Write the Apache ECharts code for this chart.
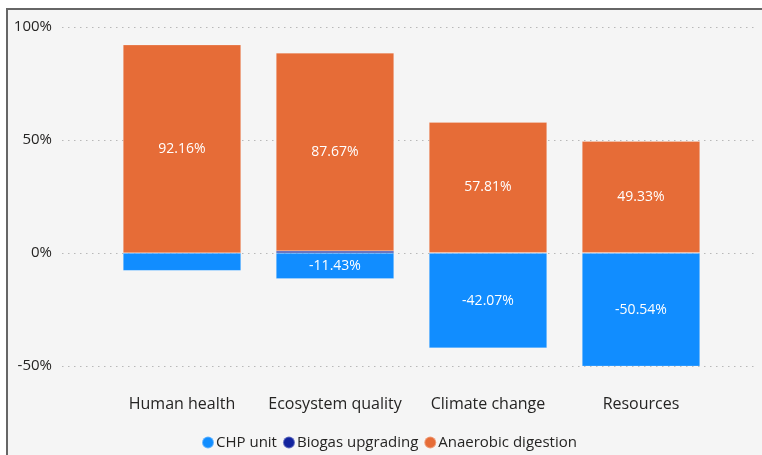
<!DOCTYPE html>
<html><head><meta charset="utf-8">
<script src="https://cdn.jsdelivr.net/npm/echarts@6/dist/echarts.min.js"></script>
<style>html,body{margin:0;padding:0;background:#fff}#c{width:762px;height:455px}</style>
</head><body><div id="c"></div>
<script>
const categories = ['Human health', 'Ecosystem quality', 'Climate change', 'Resources'];
const chpUnit = [-7.84, -11.43, -42.07, -50.54];
const biogasUpgrading = [0, 0.9, 0.12, 0.13];
const anaerobicDigestion = [92.16, 87.67, 57.81, 49.33];
const yTicks = [-50, 0, 50, 100];

const FONT = '"Open Sans", "Noto Sans", sans-serif';
const chart = echarts.init(document.getElementById('c'), null, {renderer: 'canvas'});
const labelFmt = p => Math.abs(p.value) >= 10 ? p.value.toFixed(2) + '%' : '';
const mkSeries = (name, data, color) => ({
  name, type: 'bar', stack: 's', data, xAxisIndex: 1, yAxisIndex: 1,
  barWidth: 118,
  itemStyle: {color, borderColor: 'rgba(255,255,255,0.35)', borderWidth: 0.6},
  label: {show: true, position: 'inside', color: '#fff', fontSize: 14, fontFamily: FONT, formatter: labelFmt},
  emphasis: {disabled: true}
});
chart.setOption({
  animation: false,
  backgroundColor: '#ffffff',
  graphic: [{type: 'rect', z: -10, shape: {x: 7, y: 9, width: 800, height: 500},
    style: {fill: '#f5f5f5', stroke: '#666', lineWidth: 2}}],
  grid: [
    {left: 62, right: 4, top: 27, bottom: 89},
    {left: 105.5, right: 44.5, top: 27, bottom: 89}
  ],
  legend: {
    left: 196, top: 430, icon: 'circle', itemWidth: 12, itemHeight: 12, itemGap: 5,
    textStyle: {fontSize: 15, color: '#252423', fontFamily: FONT, padding: [0,0,0,-3]},
    data: ['CHP unit', 'Biogas upgrading', 'Anaerobic digestion']
  },
  xAxis: [
    {type: 'value', gridIndex: 0, show: false, min: 0, max: 1},
    {type: 'category', gridIndex: 1, data: categories,
     axisLine: {show: false}, axisTick: {show: false},
     axisLabel: {fontSize: 16, color: '#252423', fontFamily: FONT, margin: 30, interval: 0}}
  ],
  yAxis: [
    {type: 'value', gridIndex: 0, min: yTicks[0], max: yTicks[yTicks.length-1], interval: 50,
     axisLine: {show: false}, axisTick: {show: false},
     axisLabel: {fontSize: 15, color: '#252423', fontFamily: FONT, margin: 10, formatter: v => v + '%'},
     splitLine: {show: true, lineStyle: {color: '#b8b8b8', type: [1.5, 4.5], width: 1}}},
    {type: 'value', gridIndex: 1, min: yTicks[0], max: yTicks[yTicks.length-1], interval: 50, show: false,
     splitLine: {show: false}}
  ],
  series: [
    mkSeries('CHP unit', chpUnit, '#118DFF'),
    mkSeries('Biogas upgrading', biogasUpgrading, '#12239E'),
    mkSeries('Anaerobic digestion', anaerobicDigestion, '#E66C37')
  ]
});
</script></body></html>
